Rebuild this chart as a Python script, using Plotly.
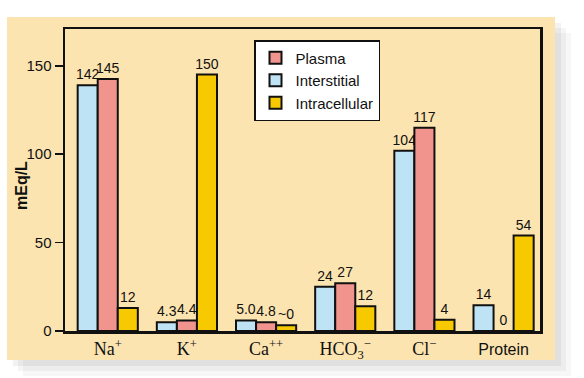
import plotly.graph_objects as go

# ---- data ----
categories = ["Na+", "K+", "Ca++", "HCO3-", "Cl-", "Protein"]
tick_labels = [
    "Na<sup>+</sup>",
    "K<sup>+</sup>",
    "Ca<sup>++</sup>",
    "HCO<sub>3</sub><sup>−</sup>",
    "Cl<sup>−</sup>",
    '<span style="font-family:Liberation Sans, Arial, sans-serif;font-size:16px">Protein</span>',
]
# drawn bar heights (mEq/L, as pictured)
interstitial = [139, 5, 6, 25, 102, 14.5]
plasma = [142.5, 6, 5, 27, 115, 0]
intracellular = [13, 145, 3.3, 14, 6.3, 54]
# printed value labels
interstitial_labels = ["142", "4.3", "5.0", "24", "104", "14"]
plasma_labels = ["145", "4.4", "4.8", "27", "117", "0"]
intracellular_labels = ["12", "150", "~0", "12", "4", "54"]
y_ticks = [0, 50, 100, 150]
y_title = "mEq/L"

# ---- styling ----
W, H = 584, 378
L, R, T, B = 65, 44, 29, 47
BLUE = "#BEE3F4"
PINK = "#F1948E"
YELLOW = "#F7C900"
PEACH = "#FCE4B0"
SANS = "Liberation Sans, Arial, sans-serif"
SERIF = "Liberation Serif, Times New Roman, serif"

pw = W - L - R
ph = H - T - B


def px_x(x):
    return (x - L) / pw


def px_y(y):
    return (H - B - y) / ph


fig = go.Figure()
series = [
    ("Interstitial", interstitial, interstitial_labels, BLUE, 2),
    ("Plasma", plasma, plasma_labels, PINK, 1),
    ("Intracellular", intracellular, intracellular_labels, YELLOW, 3),
]
for name, vals, labs, color, rank in series:
    fig.add_trace(go.Bar(
        name=name, x=categories, y=vals, text=labs,
        textposition="outside", constraintext="none", cliponaxis=False,
        textfont=dict(family=SANS, size=14, color="#111"),
        marker=dict(color=color, line=dict(color="#111", width=2)),
        legendrank=rank, hoverinfo="skip",
    ))

shapes = []
# soft shadow of the panel
for off, a in [(16, 0.03), (11, 0.04), (6, 0.05)]:
    shapes.append(dict(type="rect", xref="paper", yref="paper", layer="below",
                       x0=px_x(7 + off), x1=px_x(555 + off),
                       y0=px_y(360 + off), y1=px_y(17 + off),
                       line=dict(width=0), fillcolor=f"rgba(0,0,0,{a})"))
# peach panel
shapes.append(dict(type="rect", xref="paper", yref="paper", layer="below",
                   x0=px_x(7), x1=px_x(555), y0=px_y(360), y1=px_y(17),
                   line=dict(width=0), fillcolor=PEACH))

fig.update_layout(
    width=W, height=H,
    margin=dict(l=L, r=R, t=T, b=B),
    paper_bgcolor="white", plot_bgcolor="white",
    barmode="group", bargap=0.24, bargroupgap=0,
    shapes=shapes,
    showlegend=True,
    legend=dict(
        x=px_x(254), y=px_y(40), xanchor="left", yanchor="top",
        bgcolor="white", bordercolor="#111", borderwidth=1.5,
        font=dict(family=SANS, size=15, color="#111"),
        tracegroupgap=0, itemsizing="constant",
    ),
    annotations=[dict(
        text=f"<b>{y_title}</b>", xref="paper", yref="paper",
        x=px_x(21), y=px_y(186), xanchor="center", yanchor="middle",
        textangle=-90, showarrow=False,
        font=dict(family=SANS, size=16, color="#111"),
    )],
    xaxis=dict(
        categoryorder="array", categoryarray=categories,
        tickvals=categories, ticktext=tick_labels,
        range=[-0.54, 5.46],
        showline=True, mirror=True, linecolor="#111", linewidth=2.5,
        ticks="",
        tickfont=dict(family=SERIF, size=18, color="#111"),
        showgrid=False, zeroline=False, fixedrange=True,
    ),
    yaxis=dict(
        range=[0, 170.8], tickvals=y_ticks,
        showline=True, mirror=True, linecolor="#111", linewidth=2.5,
        ticks="outside", ticklen=8, tickwidth=1.5, tickcolor="#111",
        tickfont=dict(family=SANS, size=15, color="#111"),
        showgrid=False, zeroline=False, fixedrange=True,
    ),
)

fig.write_html("out.html", config={"displayModeBar": False, "staticPlot": True},
               post_script="document.body.style.margin='0';")
